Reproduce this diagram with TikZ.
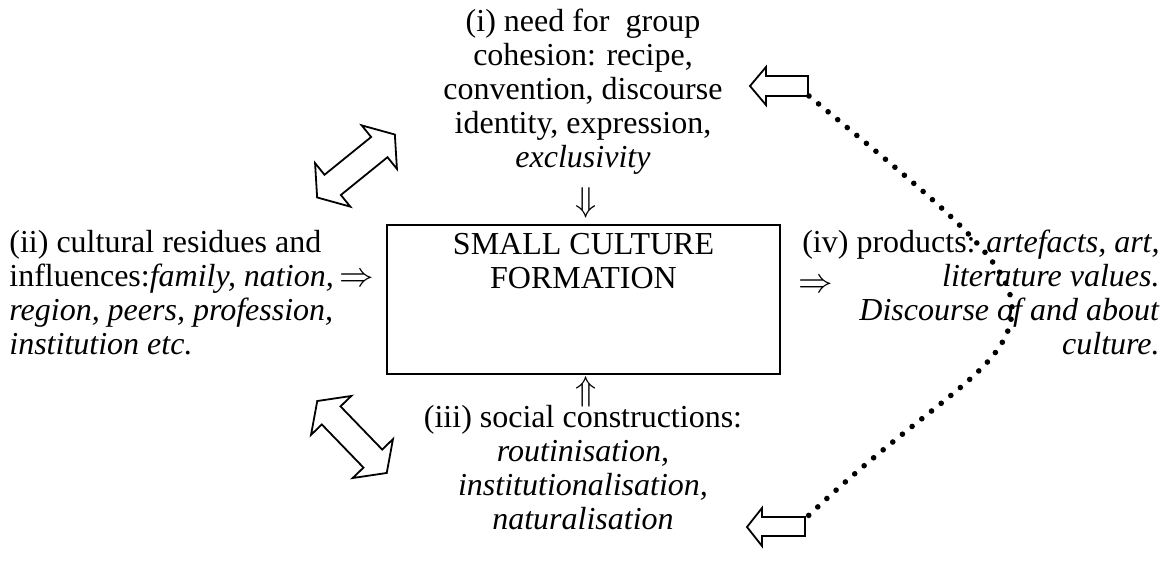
\documentclass[tikz,border=0pt]{standalone}
\usepackage{fontspec}
\setmainfont{Liberation Serif}
\usetikzlibrary{calc}
\tikzset{
  txt/.style={inner sep=0pt, font=\fontsize{16pt}{17pt}\selectfont},
  hollow/.style={draw, line width=0.9pt, line join=miter, fill=white},
  dots/.style={line width=2.8pt, line cap=round, dash pattern=on 0pt off 6.2pt}
}
\begin{document}
\begin{tikzpicture}[x=0.5pt, y=-0.5pt]
			\useasboundingbox (0,0) rectangle (1175,562);
			\node[draw, line width=0.8pt, minimum width=196.5pt, minimum height=74.5pt, inner sep=0pt] (scf) at (583.5,299.5) {};
			\node[txt, anchor=north, align=center] (scflabel) at ([yshift=-4.5pt]scf.north) {SMALL CULTURE\\FORMATION};
			\node[txt, anchor=north, align=center] (cohesion) at (583,9) {(i) need for~ group\\cohesion: recipe,\\convention, discourse\\identity, expression,\\\textit{exclusivity}};
			\node[txt, anchor=north west, align=left] (residues) at (9,230) {(ii) cultural residues and\\influences:\textit{family, nation,}\,$\Rightarrow$\\\textit{region, peers, profession,}\\\textit{institution etc.}};
			\node[txt, anchor=north east, align=right] (products) at (1160,230) {(iv) products: \textit{artefacts, art,}\\\llap{\raisebox{-3pt}{$\Rightarrow$}\hspace{54.5pt}}\textit{literature values.}\\\textit{Discourse of and about}\\\textit{culture.}};
			\node[txt, anchor=north, align=center] (constructions) at (583,405) {(iii) social constructions:\\\textit{routinisation,}\\\textit{institutionalisation,}\\\textit{naturalisation}};
			\node[txt] (down) at (586,203) {$\Downarrow$};
			\node[txt] (up) at (586,392) {$\Uparrow$};
			\foreach \cx/\cy/\ang in {356/166/39, 352/437/-46}
				\draw[hollow, shift={(\cx,\cy)}, rotate=\ang] (50,0) -- (30,28) -- (30,13) -- (-30,13) -- (-30,28) -- (-50,0) -- (-30,-28) -- (-30,-13) -- (30,-13) -- (30,-28) -- cycle;
			\draw[hollow] (750,86) -- (766,67) -- (766,76) -- (808,76) -- (808,96) -- (766,96) -- (766,105) -- cycle;
			\draw[hollow] (747,527) -- (762,508) -- (762,517) -- (805,517) -- (805,536) -- (762,536) -- (762,546) -- cycle;
			\coordinate (cohtail) at (809,96);
			\coordinate (contail) at (807,517);
			\draw[dots] (cohtail) .. controls (935,200) and (1014,262) .. (1012,310) .. controls (1010,370) and (930,400) .. (contail);
		\end{tikzpicture}
\end{document}
